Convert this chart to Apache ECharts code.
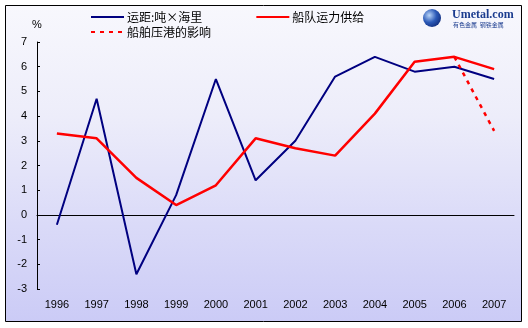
<!DOCTYPE html>
<html>
<head>
<meta charset="utf-8">
<script src="https://cdn.jsdelivr.net/npm/echarts@6/dist/echarts.min.js"></script>
<style>
  html, body { margin: 0; padding: 0; background: #ffffff; }
  #chart { width: 528px; height: 328px; }
</style>
</head>
<body>
<div id="chart"></div>
<script>
// Years on the category axis
const years = ['1996', '1997', '1998', '1999', '2000', '2001', '2002', '2003', '2004', '2005', '2006', '2007'];

// Growth rates, %
const distanceTonMiles = [-0.4, 4.7, -2.4, 0.8, 5.5, 1.4, 3.0, 5.6, 6.4, 5.8, 6.0, 5.5];
const fleetSupply = [3.3, 3.1, 1.5, 0.4, 1.2, 3.1, 2.7, 2.4, 4.1, 6.2, 6.4, 5.9];
const portCongestion = [null, null, null, null, null, null, null, null, null, null, 6.4, 3.4];

// Value axis range and step
const yMin = -3, yMax = 7, yStep = 1;

const seriesNames = ['运距:吨×海里', '船队运力供给', '船舶压港的影响'];

const labelFont = { fontFamily: 'Liberation Sans', fontSize: 11, color: '#000000' };
const legendText = { fontFamily: 'Noto Sans CJK SC', fontSize: 12, color: '#000000', padding: [0, 0, 0, -2] };

const chart = echarts.init(document.getElementById('chart'), null, { renderer: 'canvas' });

chart.setOption({
  animation: false,
  backgroundColor: 'transparent',
  graphic: [
    {
      type: 'rect',
      z: -10,
      shape: { x: 5.5, y: 5.5, width: 516, height: 316 },
      style: {
        fill: new echarts.graphic.LinearGradient(0, 0, 0, 1, [
          { offset: 0, color: '#f8f8fd' },
          { offset: 0.35, color: '#ededfa' },
          { offset: 0.7, color: '#dadaf8' },
          { offset: 1, color: '#cbcbf6' }
        ]),
        stroke: '#000000',
        lineWidth: 1
      }
    },
    // logo: globe mark
    {
      type: 'circle',
      shape: { cx: 432, cy: 18, r: 9 },
      style: {
        fill: new echarts.graphic.RadialGradient(0.35, 0.35, 0.8, [
          { offset: 0, color: '#b8d4f8' },
          { offset: 0.5, color: '#2c5ab8' },
          { offset: 1, color: '#0d2470' }
        ])
      }
    },
    {
      type: 'text',
      style: {
        x: 452, y: 9,
        text: 'Umetal.com',
        font: 'bold 12px "Liberation Serif"',
        fill: '#1b3c8f'
      }
    },
    {
      type: 'text',
      style: {
        x: 453, y: 22,
        text: '有色金属  钢铁金属',
        font: '6px "Noto Sans CJK SC"',
        fill: '#1b3c8f'
      }
    }
  ],
  legend: [
    {
      data: [seriesNames[0], seriesNames[1]],
      left: 90,
      top: 11,
      itemWidth: 33,
      itemHeight: 12,
      itemGap: 53,
      itemStyle: { opacity: 0 },
      textStyle: legendText,
      padding: 0
    },
    {
      data: [seriesNames[2]],
      left: 90,
      top: 26,
      itemWidth: 33,
      itemHeight: 12,
      itemStyle: { opacity: 0 },
      textStyle: legendText,
      padding: 0
    }
  ],
  grid: { left: 37, top: 42, width: 477, height: 247, containLabel: false },
  xAxis: [
    {
      type: 'category',
      data: years,
      boundaryGap: true,
      axisLine: { onZero: true, lineStyle: { color: '#000000', width: 1 } },
      axisTick: { inside: true, length: 3, lineStyle: { color: '#000000' } },
      axisLabel: { show: false },
      splitLine: { show: false }
    },
    {
      type: 'category',
      data: years,
      position: 'bottom',
      boundaryGap: true,
      axisLine: { show: false, onZero: false },
      axisTick: { show: false },
      axisLabel: Object.assign({ margin: 10 }, labelFont),
      splitLine: { show: false }
    }
  ],
  yAxis: {
    type: 'value',
    min: yMin,
    max: yMax,
    interval: yStep,
    name: '%',
    nameGap: 12,
    nameTextStyle: { fontFamily: 'Liberation Sans', fontSize: 11, color: '#000000', align: 'center' },
    axisLine: { show: true, onZero: false, lineStyle: { color: '#000000', width: 1 } },
    axisTick: { show: true, inside: true, length: 3, lineStyle: { color: '#000000' } },
    axisLabel: Object.assign({ margin: 10 }, labelFont),
    splitLine: { show: false }
  },
  series: [
    {
      name: seriesNames[0],
      type: 'line',
      data: distanceTonMiles,
      symbol: 'none',
      lineStyle: { color: '#000080', width: 2 },
      itemStyle: { color: '#000080' },
      z: 3
    },
    {
      name: seriesNames[1],
      type: 'line',
      data: fleetSupply,
      symbol: 'none',
      lineStyle: { color: '#ff0000', width: 2.5 },
      itemStyle: { color: '#ff0000' },
      z: 4
    },
    {
      name: seriesNames[2],
      type: 'line',
      data: portCongestion,
      symbol: 'none',
      connectNulls: false,
      lineStyle: { color: '#ff0000', width: 2.5, type: [4, 5] },
      itemStyle: { color: '#ff0000' },
      z: 4
    }
  ]
});
</script>
</body>
</html>
